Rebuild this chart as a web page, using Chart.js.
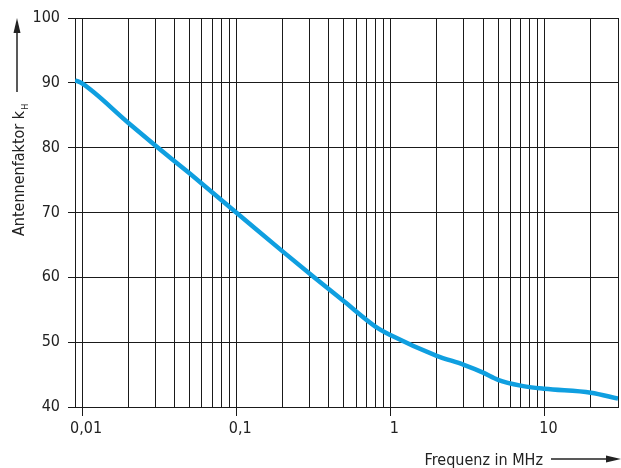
<!DOCTYPE html>
<html>
<head>
<meta charset="utf-8">
<script src="https://cdn.jsdelivr.net/npm/chart.js@4/dist/chart.umd.min.js"></script>
<style>
  html, body { margin: 0; padding: 0; background: #fff; }
  canvas { display: block; }
</style>
</head>
<body>
<canvas id="chart" width="621" height="468"></canvas>
<script>
// Antennenfaktor ueber Frequenz
const frequencies = [0.009, 0.01, 0.02, 0.03, 0.05, 0.1, 0.2, 0.32, 0.5, 0.8, 1, 2, 3, 4, 5, 7, 10, 20, 30];
const factors = [90.4, 89.9, 83.8, 80.3, 76.0, 70.0, 64.0, 60.0, 56.3, 52.4, 51.1, 47.9, 46.5, 45.3, 44.2, 43.3, 42.8, 42.2, 41.3];

// Gitterlinien der log. Achse und beschriftete Werte
const xGridValues = [0.009, 0.01, 0.02, 0.03, 0.04, 0.05, 0.06, 0.07, 0.08, 0.09,
    0.1, 0.2, 0.3, 0.4, 0.5, 0.6, 0.7, 0.8, 0.9,
    1, 2, 3, 4, 5, 6, 7, 8, 9, 10, 20, 30];
const xTickLabels = { 0.01: '0,01', 0.1: '0,1', 1: '1', 10: '10' };
const yTickValues = [40, 50, 60, 70, 80, 90, 100];

const FONT = '"Liberation Sans Narrow", "DejaVu Sans Condensed", "Arial Narrow", sans-serif';
const LINE_COLOR = '#0f9fe0';
const GRID_COLOR = '#1a1a1a';

// Achsentitel mit Pfeilen
const axisTitles = {
    id: 'axisTitles',
    afterDraw(chart) {
        const ctx = chart.ctx;
        ctx.save();
        ctx.fillStyle = '#222';
        ctx.strokeStyle = '#222';

        // y-Titel: "Antennenfaktor k_H" gedreht
        ctx.save();
        ctx.translate(24, 236);
        ctx.rotate(-Math.PI / 2);
        ctx.font = '16px ' + FONT;
        ctx.textBaseline = 'alphabetic';
        ctx.textAlign = 'left';
        const main = 'Antennenfaktor k';
        ctx.fillText(main, 0, 0);
        const w = ctx.measureText(main).width;
        ctx.font = '9px ' + FONT;
        ctx.fillText('H', w + 1, 4);
        ctx.restore();

        // Pfeil nach oben
        ctx.lineWidth = 1.5;
        ctx.beginPath();
        ctx.moveTo(17, 92);
        ctx.lineTo(17, 30);
        ctx.stroke();
        ctx.beginPath();
        ctx.moveTo(17, 18);
        ctx.lineTo(13.5, 33);
        ctx.lineTo(20.5, 33);
        ctx.closePath();
        ctx.fill();

        // x-Titel
        ctx.font = '16px ' + FONT;
        ctx.textAlign = 'right';
        ctx.textBaseline = 'alphabetic';
        ctx.fillText('Frequenz in MHz', 543, 465);

        ctx.lineWidth = 1.5;
        ctx.beginPath();
        ctx.moveTo(551, 459);
        ctx.lineTo(612, 459);
        ctx.stroke();
        ctx.beginPath();
        ctx.moveTo(621, 459);
        ctx.lineTo(606, 455.5);
        ctx.lineTo(606, 462.5);
        ctx.closePath();
        ctx.fill();

        ctx.restore();
    }
};

const chart = new Chart(document.getElementById('chart'), {
    type: 'line',
    data: {
        datasets: [{
            data: frequencies.map((f, i) => ({ x: f, y: factors[i] })),
            borderColor: LINE_COLOR,
            borderWidth: 4.5,
            pointRadius: 0,
            cubicInterpolationMode: 'monotone',
            fill: false
        }]
    },
    options: {
        responsive: false,
        devicePixelRatio: 1,
        animation: false,
        layout: { padding: { top: 18, right: 1, left: 0, bottom: 0 } },
        plugins: {
            legend: { display: false },
            tooltip: { enabled: false }
        },
        scales: {
            x: {
                type: 'logarithmic',
                min: 0.009,
                max: 30,
                afterFit(scale) { scale.height = 61; },
                afterBuildTicks(scale) {
                    scale.ticks = xGridValues.map(v => ({ value: v }));
                },
                border: { display: true, color: GRID_COLOR, width: 1 },
                grid: {
                    color: GRID_COLOR,
                    lineWidth: 1,
                    drawTicks: true,
                    tickLength: 9,
                    tickColor: ctx => (ctx.tick && xTickLabels[ctx.tick.value] ? GRID_COLOR : 'rgba(0,0,0,0)')
                },
                ticks: {
                    autoSkip: false,
                    maxRotation: 0,
                    padding: 3,
                    labelOffset: 4,
                    color: '#222',
                    font: { family: FONT, size: 16 },
                    callback: value => xTickLabels[value] || ''
                }
            },
            y: {
                min: 40,
                max: 100,
                afterFit(scale) { scale.width = 75; },
                afterBuildTicks(scale) {
                    scale.ticks = yTickValues.map(v => ({ value: v }));
                },
                border: { display: true, color: GRID_COLOR, width: 1 },
                grid: {
                    color: GRID_COLOR,
                    lineWidth: 1,
                    tickLength: 7
                },
                ticks: {
                    padding: 8,
                    color: '#222',
                    font: { family: FONT, size: 16 }
                }
            }
        }
    },
    plugins: [axisTitles]
});
</script>
</body>
</html>
